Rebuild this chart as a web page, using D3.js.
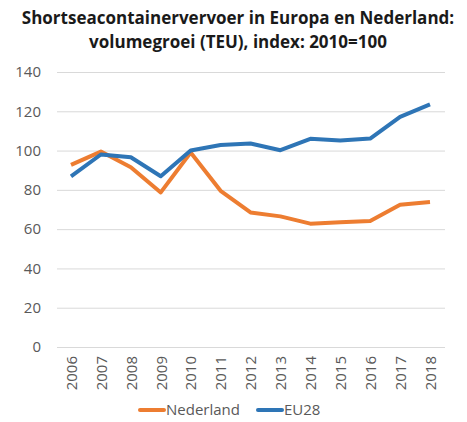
<!DOCTYPE html>
<html>
<head>
<meta charset="utf-8">
<script src="https://cdn.jsdelivr.net/npm/d3@7"></script>
<style>
  body { margin: 0; background: #fff; }
  text { font-family: "Open Sans", sans-serif; }
</style>
</head>
<body>
<div id="chart"></div>
<script>
var years = ["2006", "2007", "2008", "2009", "2010", "2011", "2012", "2013", "2014", "2015", "2016", "2017", "2018"];
var nederland = [92.7, 99.5, 91.5, 78.7, 99, 79.5, 68.5, 66.5, 62.8, 63.5, 64.1, 72.4, 73.8];
var eu28 = [86.9, 98, 96.6, 86.9, 100, 102.8, 103.6, 100.2, 106, 105.1, 106.1, 117.2, 123.5];
var yTicks = [0, 20, 40, 60, 80, 100, 120, 140];
var titleLines = ["Shortseacontainervervoer in Europa en Nederland:", "volumegroei (TEU), index: 2010=100"];

var w = 467, h = 422;
var plotLeft = 57, plotRight = 445, plotTop = 72, plotBottom = 347;

var svg = d3.select("#chart").append("svg")
    .attr("width", w)
    .attr("height", h);

var x = d3.scalePoint()
    .domain(years)
    .range([71, 430]);

var y = d3.scaleLinear()
    .domain([0, 140])
    .range([plotBottom, plotTop]);

// title
svg.selectAll("text.title")
    .data(titleLines)
    .enter()
    .append("text")
    .attr("class", "title")
    .attr("x", 238)
    .attr("y", (d, i) => 24 + i * 24)
    .attr("text-anchor", "middle")
    .style("font-size", "17px")
    .style("font-weight", "bold")
    .style("fill", "#1a1a1a")
    .text(d => d);

// gridlines + y labels
var yAxis = svg.append("g")
    .attr("transform", "translate(" + plotLeft + ",0)")
    .call(d3.axisLeft(y).tickValues(yTicks).tickSize(-(plotRight - plotLeft)).tickFormat(d3.format("d")));
yAxis.select(".domain").remove();
yAxis.selectAll(".tick line").attr("stroke", "#d9d9d9");
yAxis.selectAll(".tick text")
    .attr("x", -16)
    .style("font-size", "15px")
    .style("font-family", "Open Sans, sans-serif")
    .style("fill", "#595959");

// x labels
var xAxis = svg.append("g")
    .attr("transform", "translate(0," + plotBottom + ")")
    .call(d3.axisBottom(x).tickSize(0));
xAxis.select(".domain").remove();
xAxis.selectAll(".tick text")
    .attr("transform", "rotate(-90)")
    .attr("x", -9)
    .attr("y", 0)
    .attr("dy", "0.35em")
    .attr("text-anchor", "end")
    .style("font-size", "15px")
    .style("font-family", "Open Sans, sans-serif")
    .style("fill", "#595959");

var line = d3.line()
    .x((d, i) => x(years[i]))
    .y(d => y(d));

var series = [
    { name: "Nederland", values: nederland, color: "#ED7D31" },
    { name: "EU28", values: eu28, color: "#2E75B6" }
];

svg.selectAll("path.series")
    .data(series)
    .enter()
    .append("path")
    .attr("class", "series")
    .attr("d", d => line(d.values))
    .attr("fill", "none")
    .attr("stroke", d => d.color)
    .attr("stroke-width", 4)
    .attr("stroke-linejoin", "round");

// legend
var legendX = [140, 258];
var lg = svg.selectAll("g.legend")
    .data(series)
    .enter()
    .append("g")
    .attr("class", "legend")
    .attr("transform", (d, i) => "translate(" + legendX[i] + ",410)");
lg.append("line")
    .attr("x1", 0).attr("x2", 24)
    .attr("stroke", d => d.color)
    .attr("stroke-width", 4)
    .attr("stroke-linecap", "round");
lg.append("text")
    .attr("x", 26)
    .attr("y", 0)
    .attr("dy", "0.35em")
    .style("font-size", "15px")
    .style("fill", "#595959")
    .text(d => d.name);
</script>
</body>
</html>
